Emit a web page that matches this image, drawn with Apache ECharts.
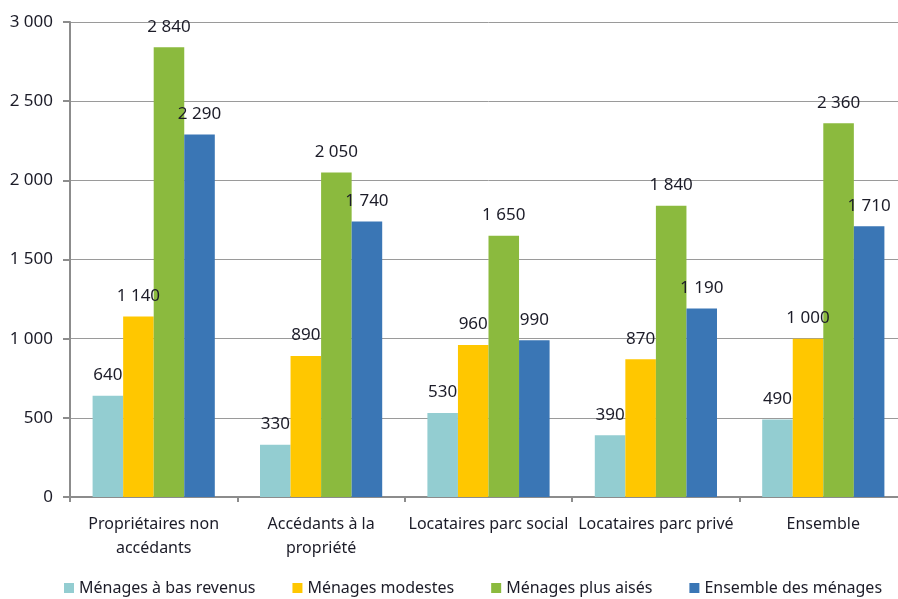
<!DOCTYPE html>
<html><head><meta charset="utf-8">
<script src="https://cdn.jsdelivr.net/npm/echarts@6/dist/echarts.min.js"></script>
<style>html,body{margin:0;padding:0;background:#fff;overflow:hidden}#c{width:912px;height:599px}</style>
</head><body><div id="c"></div>
<script>
const categories = ['Propriétaires non\naccédants', 'Accédants à la\npropriété', 'Locataires parc social', 'Locataires parc privé', 'Ensemble'];
const seriesNames = ['Ménages à bas revenus', 'Ménages modestes', 'Ménages plus aisés', 'Ensemble des ménages'];
const basRevenus = [640, 330, 530, 390, 490];
const modestes = [1140, 890, 960, 870, 1000];
const plusAises = [2840, 2050, 1650, 1840, 2360];
const ensemble = [2290, 1740, 990, 1190, 1710];
const colors = ['#93CDD1', '#FFC700', '#8BBA3E', '#3A76B5'];
const fmt = v => String(v).replace(/\B(?=(\d{3})+(?!\d))/g, ' ');
const font = 'Noto Sans';
const txt = '#1c1c28';
const chart = echarts.init(document.getElementById('c'));
const data = [basRevenus, modestes, plusAises, ensemble];
chart.setOption({
  animation: false,
  textStyle: {fontFamily: font},
  grid: {left: 70, top: 22, width: 837, height: 475},
  legend: {
    top: 575, left: 59, itemWidth: 10, itemHeight: 10, itemGap: 37,
    icon: 'rect',
    textStyle: {fontFamily: font, fontSize: 16, color: txt},
    data: seriesNames
  },
  xAxis: {
    type: 'category', data: categories,
    axisLine: {lineStyle: {color: '#8c8c8c', width: 2}},
    axisTick: {show: true, length: 5, lineStyle: {color: '#8c8c8c', width: 2}},
    axisLabel: {fontFamily: font, fontSize: 16, color: txt, margin: 15, lineHeight: 24, interval: 0}
  },
  yAxis: {
    type: 'value', min: 0, max: 3000, interval: 500,
    axisLine: {show: true, lineStyle: {color: '#8c8c8c', width: 2}},
    axisTick: {show: true, length: 7, lineStyle: {color: '#8c8c8c', width: 2}},
    splitLine: {lineStyle: {color: '#9a9a9a', width: 1}},
    axisLabel: {fontFamily: font, fontSize: 17, color: txt, margin: 17, formatter: fmt}
  },
  series: seriesNames.map((n, i) => ({
    name: n, type: 'bar', data: data[i],
    itemStyle: {color: colors[i]},
    barGap: '0%', barCategoryGap: '27%',
    label: {show: true, position: 'top', distance: 12, fontFamily: font, fontSize: 17, color: txt, formatter: p => fmt(p.value)}
  }))
});
</script>
</body></html>
